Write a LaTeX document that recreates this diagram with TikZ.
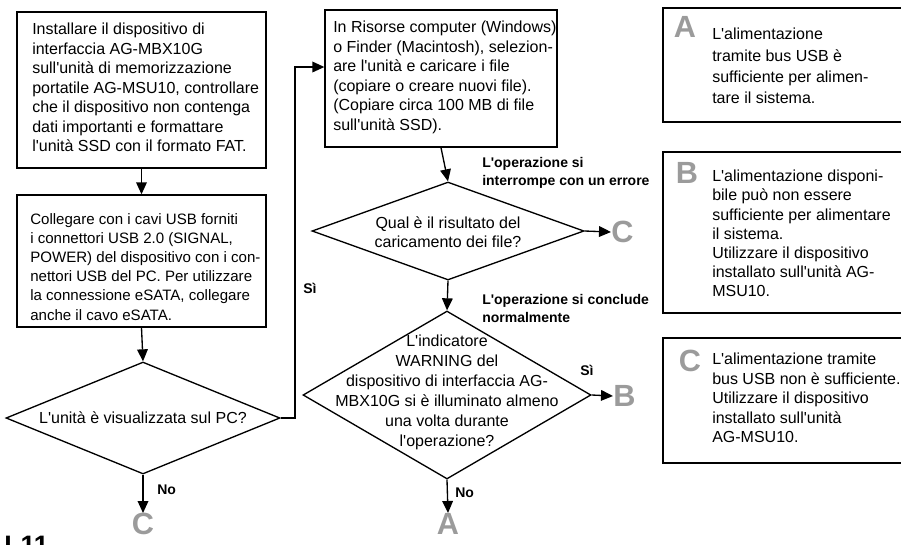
\documentclass[tikz,border=0pt]{standalone}
\usepackage{fontspec}
\setmainfont{Liberation Sans}[Ligatures=TeXOff]
\usetikzlibrary{shapes.geometric,arrows.meta}
\definecolor{lettergray}{HTML}{9B9B9B}
\begin{document}
\begin{tikzpicture}[x=0.75pt,y=-0.75pt,
  box/.style={draw, rectangle, line width=1pt, inner sep=0pt},
  rbox/.style={draw, rectangle, line width=1.8pt, inner sep=0pt},
  dia/.style={draw, diamond, line width=1pt, inner sep=0pt},
  txt/.style={align=left, inner sep=0pt, anchor=north west, font=\fontsize{12}{14.6}\selectfont},
  ctxt/.style={align=center, inner sep=0pt, font=\fontsize{12}{14.6}\selectfont},
  lbl/.style={align=left, inner sep=0pt, font=\fontsize{10.5}{13.5}\selectfont\bfseries},
  letter/.style={inner sep=0pt, text=lettergray, font=\fontsize{23}{23}\selectfont\bfseries},
  arr/.style={line width=1pt, -{Triangle[length=9pt,width=8pt]}},
  conn/.style={line width=1pt}]
\useasboundingbox (0,0) rectangle (901,544);
\clip (0,0) rectangle (901,544);

% left column
\node[box, minimum width=186.75pt, minimum height=117pt] (b1) at (141.5,90) {};
\node[txt] (t1) at (32,23) {Installare il dispositivo di\\interfaccia AG-MBX10G\\sull'unità di memorizzazione\\portatile AG-MSU10, controllare\\che il dispositivo non contenga\\dati importanti e formattare\\l'unità SSD con il formato FAT.};
\node[box, minimum width=186.75pt, minimum height=99pt] (b2) at (141.5,261) {};
\node[txt, font=\fontsize{11.3}{14.4}\selectfont] (t2) at (30,213) {Collegare con i cavi USB forniti\\i connettori USB 2.0 (SIGNAL,\\POWER) del dispositivo con i con-\\nettori USB del PC. Per utilizzare\\la connessione eSATA, collegare\\anche il cavo eSATA.};
\node[dia, minimum width=205.5pt, minimum height=84pt] (d1) at (143,418) {};
\node[ctxt, anchor=base] (td1) at (143,423) {L'unità è visualizzata sul PC?};
\node[letter, anchor=north] (c1) at (143,513) {C};

% middle column
\node[box, minimum width=174pt, minimum height=102.75pt] (b3) at (441,78.5) {};
\node[txt] (t3) at (333,21) {In Risorse computer (Windows)\\o Finder (Macintosh), selezion-\\are l'unità e caricare i file\\(copiare o creare nuovi file).\\(Copiare circa 100 MB di file\\sull'unità SSD).};
\node[dia, minimum width=204pt, minimum height=73.5pt] (d2) at (448,231) {};
\node[ctxt, anchor=north] (td2) at (448,216) {Qual è il risultato del\\caricamento dei file?};
\node[letter, anchor=west] (c2) at (611,232) {C};
\node[dia, minimum width=216pt, minimum height=126pt] (d3) at (447,395) {};
\node[ctxt, anchor=north, font=\fontsize{12}{14.9}\selectfont] (td3) at (447,335) {L'indicatore\\WARNING del\\dispositivo di interfaccia AG-\\MBX10G si è illuminato almeno\\una volta durante\\l'operazione?};
\node[letter, anchor=west] (b4) at (613,396) {B};
\node[letter, anchor=north] (a1) at (448,513) {A};

% labels
\node[lbl, anchor=north west] (l1) at (482,157) {L'operazione si\\interrompe con un errore};
\node[lbl, anchor=north west] (l2) at (482,294) {L'operazione si conclude\\normalmente};
\node[lbl, anchor=base west] (si1) at (303,293) {Sì};
\node[lbl, anchor=base west] (si2) at (580,375) {Sì};
\node[lbl, anchor=base west] (no1) at (157,494) {No};
\node[lbl, anchor=base west] (no2) at (455,497) {No};

% right column
\node[rbox, minimum width=189pt, minimum height=85.5pt] (ba) at (789,65) {};
\node[letter, anchor=base] (la) at (685,37) {A};
\node[txt, font=\fontsize{12}{16}\selectfont] (ta) at (712,28) {L'alimentazione\\tramite bus USB è\\sufficiente per alimen-\\tare il sistema.};
\node[rbox, minimum width=189pt, minimum height=120.75pt] (bb) at (789,232.5) {};
\node[letter, anchor=base] (lb) at (687,183) {B};
\node[txt, font=\fontsize{12}{14.3}\selectfont] (tb) at (712,170) {L'alimentazione disponi-\\bile può non essere\\sufficiente per alimentare\\il sistema.\\Utilizzare il dispositivo\\installato sull'unità AG-\\MSU10.};
\node[rbox, minimum width=189pt, minimum height=93.75pt] (bc) at (789,400.5) {};
\node[letter, anchor=base] (lc) at (690,371) {C};
\node[txt] (tc) at (712,353) {L'alimentazione tramite\\bus USB non è sufficiente.\\Utilizzare il dispositivo\\installato sull'unità\\AG-MSU10.};

% page number fragment
\node[inner sep=0pt, anchor=north west, font=\fontsize{20}{20}\selectfont\bfseries] (pg) at (4,536) {I-11};

% connectors
\coordinate (k1) at (295,418);
\coordinate (k2) at (295,67);
\draw[arr] (b1.south) -- (b2.north);
\draw[arr] (b2.south) -- (d1.north);
\draw[arr] (d1.south) -- (c1.north);
\draw[arr] (d1.east) -- (k1) -- (k2) -- (k2 -| b3.west);
\draw[arr] (b3.south) -- (d2.north);
\draw[arr] (d2.east) -- (c2.west);
\draw[arr] (d2.south) -- (d3.north);
\draw[arr] (d3.east) -- (b4.west);
\draw[arr] (d3.south) -- (a1.north);
\end{tikzpicture}
\end{document}
